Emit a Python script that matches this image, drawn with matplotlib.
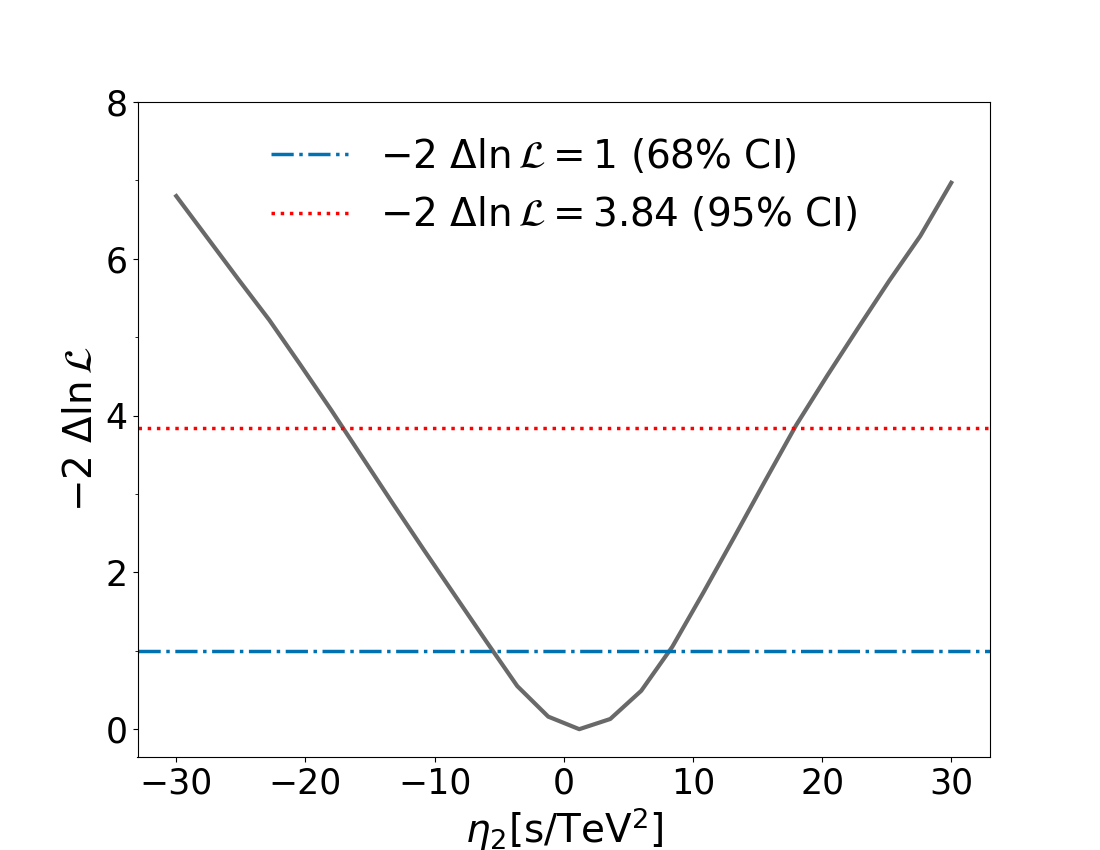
import numpy as np
import matplotlib
matplotlib.use("Agg")
import matplotlib.pyplot as plt
from matplotlib.ticker import AutoMinorLocator

# 扫描点 eta_2 [s/TeV^2] 与 -2 Delta ln L
eta2 = [-30.0, -27.6, -25.2, -22.8, -20.4, -18.0, -15.6, -13.2, -10.8,
        -8.4, -6.0, -3.6, -1.2, 1.2, 3.6, 6.0, 8.4, 10.8, 13.2, 15.6,
        18.0, 20.4, 22.8, 25.2, 27.6, 30.0]
nll = [6.80, 6.27, 5.74, 5.22, 4.65, 4.07, 3.47, 2.87, 2.28,
       1.70, 1.12, 0.55, 0.16, 0.00, 0.13, 0.49, 1.05, 1.74, 2.45, 3.17,
       3.88, 4.51, 5.12, 5.72, 6.29, 6.97]

CI68 = 1.0
CI95 = 3.84

fig, ax = plt.subplots(figsize=(11, 8.5), dpi=100)

ax.plot(eta2, nll, color="dimgray", linewidth=3)
ax.axhline(y=CI68, color="#0072B2", linestyle="-.", linewidth=2.5,
           label=r"$-2\ \Delta\ln\mathcal{L} = 1$ (68% CI)")
ax.axhline(y=CI95, color="red", linestyle=":", linewidth=2.5,
           label=r"$-2\ \Delta\ln\mathcal{L} = 3.84$ (95% CI)")

ax.set_ylim(top=8)
ax.set_yticks([0, 2, 4, 6, 8])
ax.yaxis.set_minor_locator(AutoMinorLocator(2))
ax.tick_params(axis="both", which="major", labelsize=25)

ax.set_xlabel(r"$\eta_2$[s/TeV$^2$]", fontsize=28)
ax.set_ylabel(r"$-2\ \Delta\ln\mathcal{L}$", fontsize=28)

ax.legend(loc="upper center", fontsize=28, frameon=False)

plt.savefig("out.png", dpi=100)
plt.close()
